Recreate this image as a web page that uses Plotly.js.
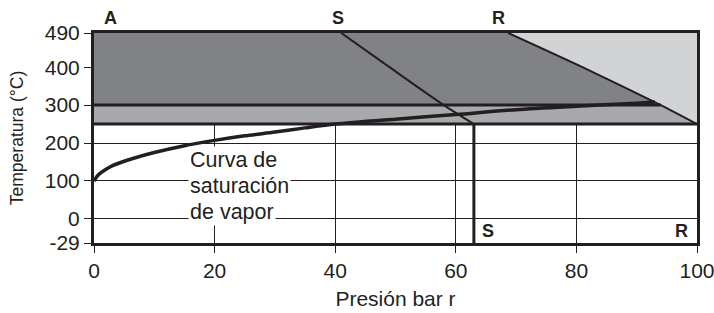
<!DOCTYPE html>
<html>
<head>
<meta charset="utf-8">
<script src="https://cdn.plot.ly/plotly-3.0.1.min.js"></script>
<style>html,body{margin:0;padding:0;background:#fff;}#chart{width:714px;height:313px;}</style>
</head>
<body>
<div id="chart"></div>
<script>
// ---- data ----
// saturation curve (pressure bar r -> temperature °C)
const satPressure = [0, 0.5, 1, 2, 3, 5, 7, 10, 15, 20, 25, 30, 35, 40, 50, 60, 70, 80, 90, 93];
const satTemp     = [100, 112, 120, 131, 140, 152, 162, 175, 193, 207, 219, 229, 240, 250, 263, 275, 288, 297, 305, 308];
// class S limit line
const sPressure = [41, 49, 58, 63];
const sTemp     = [490, 400, 300, 250];
// class R limit line
const rPressure = [68.7, 81, 94, 100];
const rTemp     = [490, 400, 300, 250];
// region limits
const tMax = 490, tUpper = 300, tLower = 250;
const pMin = 0, pMax = 100, pS = 63;
// axis ticks (the -29 label sits at a broken-axis position at the bottom)
const Y_BOTTOM = -63.4;
const xTicks = [0, 20, 40, 60, 80, 100];
const yTickVals = [Y_BOTTOM, 0, 100, 200, 300, 400, 490];
const yTickText = ['-29', '0', '100', '200', '300', '400', '490'];
const topLabels = [{t:'A', x:2.7}, {t:'S', x:40.5}, {t:'R', x:67}];
const bottomLabels = [{t:'S', x:65.4}, {t:'R', x:97.5}];
const curveLabel = [{t:'Curva de', y:155}, {t:'saturación', y:86}, {t:'de vapor', y:19}];

// ---- styles ----
const INK = '#231f20';
const DARK = '#808285', MID = '#a7a9ac', LIGHT = '#d1d3d4';
const FONT = 'Liberation Sans, Arial, sans-serif';

// R line crossing at 300 (from data)
const rAt300 = rPressure[rTemp.indexOf(tUpper)];

const traces = [
  {x:[pMin,pMax,pMax,pMin], y:[tLower,tLower,tMax,tMax], fill:'toself', fillcolor:LIGHT, line:{width:0}, mode:'lines', hoverinfo:'skip'},
  {x:[pMin, pMax, rAt300, pMin], y:[tLower, tLower, tUpper, tUpper], fill:'toself', fillcolor:MID, line:{width:0}, mode:'lines', hoverinfo:'skip'},
  {x:[pMin].concat(rPressure.slice(0,3).reverse(), [pMin]), y:[tUpper].concat(rTemp.slice(0,3).reverse(), [tMax]), fill:'toself', fillcolor:DARK, line:{width:0}, mode:'lines', hoverinfo:'skip'},
  {x:[pMin, rAt300], y:[tUpper, tUpper], mode:'lines', line:{color:INK, width:3}},
  {x:[pMin, pMax], y:[tLower, tLower], mode:'lines', line:{color:INK, width:3}},
  {x:[pS, pS], y:[tLower, Y_BOTTOM], mode:'lines', line:{color:INK, width:3}},
  {x:sPressure, y:sTemp, mode:'lines', line:{color:INK, width:2, shape:'spline', smoothing:0.6}},
  {x:rPressure, y:rTemp, mode:'lines', line:{color:INK, width:2, shape:'spline', smoothing:0.6}},
  {x:satPressure, y:satTemp, mode:'lines', line:{color:INK, width:3.5, shape:'spline', smoothing:0.8}}
];

const annotations = [];
topLabels.forEach(l => annotations.push({x:l.x, y:1.073, xref:'x', yref:'paper', text:'<b>'+l.t+'</b>', showarrow:false, font:{family:FONT, size:18, color:INK}, xanchor:'center', yanchor:'middle'}));
bottomLabels.forEach(l => annotations.push({x:l.x, y:-32.5, xref:'x', yref:'y', text:'<b>'+l.t+'</b>', showarrow:false, font:{family:FONT, size:18, color:INK}, xanchor:'center', yanchor:'middle'}));
curveLabel.forEach(l => annotations.push({x:15.6, y:l.y, xref:'x', yref:'y', text:l.t, showarrow:false, font:{family:FONT, size:21.5, color:INK}, xanchor:'left', yanchor:'middle', bgcolor:'#ffffff', borderpad:1}));

const axisCommon = {
  showgrid:true, gridcolor:INK, gridwidth:1, zeroline:false,
  showline:true, linecolor:INK, linewidth:3, mirror:true,
  ticks:'outside', ticklen:7, tickwidth:1, tickcolor:INK,
  tickfont:{family:FONT, size:21, color:INK}, fixedrange:true,
  ticklabeloverflow:'allow'
};

const layout = {
  width:714, height:313,
  margin:{l:94, r:17, t:33, b:70, pad:0},
  paper_bgcolor:'#ffffff', plot_bgcolor:'#ffffff',
  showlegend:false,
  font:{family:FONT, color:INK},
  xaxis:Object.assign({}, axisCommon, {range:[pMin,pMax], tickvals:xTicks, title:{text:'Presión bar r', font:{family:FONT, size:21, color:INK}, standoff:11}}),
  yaxis:Object.assign({}, axisCommon, {range:[Y_BOTTOM,tMax], tickvals:yTickVals, ticktext:yTickText, title:{text:'Temperatura (°C)', font:{family:FONT, size:17.5, color:INK}, standoff:17}}),
  annotations:annotations
};

Plotly.newPlot('chart', traces, layout, {displayModeBar:false, staticPlot:true});
</script>
</body>
</html>
